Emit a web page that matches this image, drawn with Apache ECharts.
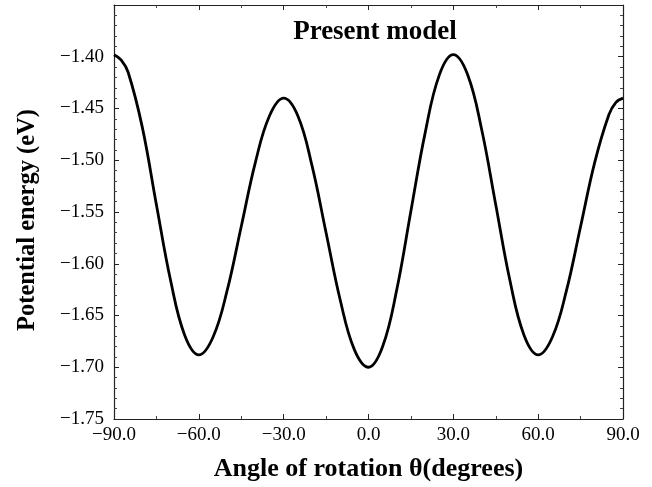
<!DOCTYPE html>
<html><head><meta charset="utf-8">
<script src="https://cdn.jsdelivr.net/npm/echarts@6/dist/echarts.min.js"></script>
<style>html,body{margin:0;padding:0;background:#fff}#c{width:652px;height:487px}</style>
</head><body><div id="c"></div>
<script>
const angles = [-90,-87.5,-85,-80,-75,-70,-65,-60,-55,-50,-45,-40,-35,-30,-25,-20,-15,-10,-5,0,5,10,15,20,25,30,35,40,45,50,55,60,65,70,75,80,85,87.5,90];
const energy = [-1.398,-1.403,-1.415,-1.468,-1.543,-1.616,-1.669,-1.688,-1.671,-1.626,-1.564,-1.502,-1.457,-1.440,-1.457,-1.505,-1.570,-1.635,-1.683,-1.700,-1.680,-1.625,-1.549,-1.474,-1.418,-1.398,-1.417,-1.470,-1.543,-1.616,-1.669,-1.688,-1.671,-1.626,-1.564,-1.502,-1.456,-1.444,-1.440];
const xTicks = {min:-90, max:90, step:30};
const yTicks = {min:-1.75, max:-1.35, step:0.05};
const titleText = 'Present model';
const xName = 'Angle of rotation \u03B8(degrees)';
const yName = 'Potential energy (eV)';

const FONT = '"Liberation Serif", "DejaVu Serif", serif';
const fmt = d => v => (v < 0 ? '\u2212' : '') + Math.abs(v).toFixed(d);
const axisCommon = {
  axisLine:{show:true, onZero:false, lineStyle:{color:'#222', width:1.2}},
  axisTick:{show:true, inside:true, length:5, lineStyle:{color:'#222'}},
  splitLine:{show:false}
};
const chart = echarts.init(document.getElementById('c'));
chart.setOption({
  animation:false,
  title:{text:titleText, left:370, top:14, textAlign:'center',
    textStyle:{fontFamily:FONT, fontWeight:'bold', fontSize:27, color:'#000'}},
  grid:{left:114, right:29, top:5, bottom:60},
  xAxis:[
    Object.assign({type:'value', min:xTicks.min, max:xTicks.max, interval:xTicks.step,
      name:xName, nameLocation:'middle', nameGap:37,
      nameTextStyle:{fontFamily:FONT, fontWeight:'bold', fontSize:26, color:'#000'},
      axisLabel:{formatter:fmt(1), fontFamily:FONT, fontSize:19, color:'#000', margin:7}}, axisCommon,
      {minorTick:{show:true, splitNumber:2, length:3, lineStyle:{color:'#444'}}}),
    Object.assign({type:'value', position:'top', min:xTicks.min, max:xTicks.max, interval:xTicks.step,
      axisLabel:{show:false}}, axisCommon,
      {minorTick:{show:true, splitNumber:2, length:3, lineStyle:{color:'#444'}}})
  ],
  yAxis:[
    Object.assign({type:'value', min:yTicks.min, max:yTicks.max, interval:yTicks.step,
      name:yName, nameLocation:'middle', nameGap:74,
      nameTextStyle:{fontFamily:FONT, fontWeight:'bold', fontSize:24.5, color:'#000', padding:[0,16,0,0]},
      axisLabel:{formatter:fmt(2), fontFamily:FONT, fontSize:19, color:'#000', margin:10, showMaxLabel:false}}, axisCommon,
      {minorTick:{show:true, splitNumber:5, length:3, lineStyle:{color:'#444'}}}),
    Object.assign({type:'value', position:'right', min:yTicks.min, max:yTicks.max, interval:yTicks.step,
      axisLabel:{show:false}}, axisCommon,
      {minorTick:{show:true, splitNumber:5, length:3, lineStyle:{color:'#444'}}})
  ],
  series:[{type:'line', data:angles.map((a,i)=>[a, energy[i]]), smooth:0.4, showSymbol:false,
    lineStyle:{color:'#000', width:2.8}, xAxisIndex:0, yAxisIndex:0}]
});
</script></body></html>
